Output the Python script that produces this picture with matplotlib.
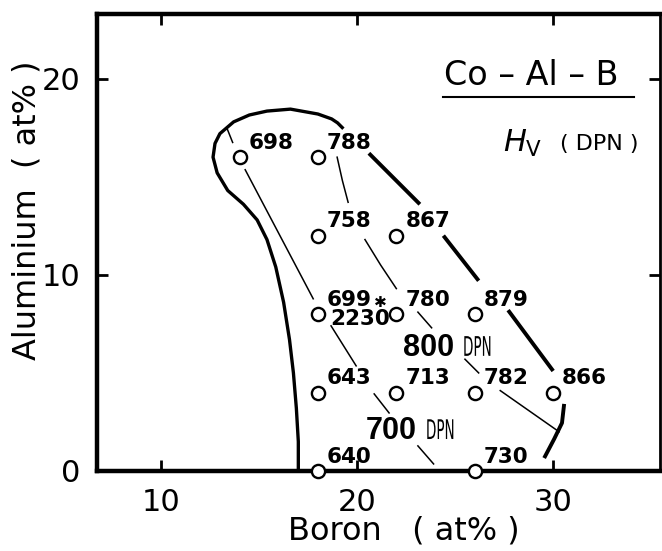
import matplotlib.pyplot as plt
from matplotlib.textpath import TextPath
from matplotlib.patches import PathPatch
from matplotlib.font_manager import FontProperties
from matplotlib.transforms import Affine2D, ScaledTranslation

# Vickers hardness (DPN) of Co-Al-B alloys, composition in at%
boron = [14, 18, 18, 22, 18, 22, 26, 18, 22, 26, 30, 18, 26]
aluminium = [16, 16, 12, 12, 8, 8, 8, 4, 4, 4, 4, 0, 0]
hardness = [698, 788, 758, 867, 699, 780, 879, 643, 713, 782, 866, 640, 730]
# second phase measured in the 18B-8Al alloy
hard_phase = 2230

# single-phase region boundary (left / top part)
bound_b = [17.0, 17.0, 16.9, 16.75, 16.55, 16.25, 15.85, 15.4, 14.9, 14.2, 13.4,
           12.86, 12.65, 12.75, 13.0, 13.7, 14.5, 15.4, 16.6, 18.0, 18.7, 19.0, 19.3]
bound_al = [0.0, 1.5, 3.2, 5.0, 6.7, 8.6, 10.4, 11.8, 12.8, 13.6, 14.3,
            15.2, 16.0, 16.7, 17.2, 17.8, 18.15, 18.35, 18.45, 18.2, 17.95, 17.75, 17.45]
# boundary (right part), broken by the labels
edge_segments = [
    ([20.6, 23.2], [16.2, 13.6]),
    ([24.4, 26.2], [12.0, 9.7]),
    ([27.7, 30.0], [8.2, 5.1]),
    ([30.56, 30.45, 30.05, 29.54], [3.42, 2.45, 1.63, 0.66]),
]
# iso-hardness lines
iso700 = [
    ([14.29, 17.76], [15.36, 8.78]),
    ([18.67, 19.95], [7.4, 5.36]),
    ([20.87, 21.63], [3.93, 2.96]),
    ([23.1, 23.9], [1.28, 0.36]),
]
iso800 = [
    ([18.98, 19.25, 19.54], [16.0, 14.8, 13.7]),
    ([20.4, 21.2, 22.0], [11.8, 10.5, 9.3]),
    ([23.1, 23.8], [8.1, 7.3]),
    ([25.5, 26.2], [5.7, 5.0]),
    ([27.3, 30.3], [4.1, 2.0]),
]

fig = plt.figure(figsize=(6.62, 5.51), dpi=100)
ax = fig.add_axes([0.1465, 0.1452, 0.8505, 0.8294])

ax.plot(bound_b, bound_al, color='black', lw=2.4, solid_capstyle='butt')
ax.plot([13.35, 13.65], [17.5, 16.75], color='black', lw=1.1)
for xs, ys in edge_segments:
    ax.plot(xs, ys, color='black', lw=2.8, solid_capstyle='butt')
for xs, ys in iso700 + iso800:
    ax.plot(xs, ys, color='black', lw=1.1)

ax.plot(boron, aluminium, 'o', ms=9.5, mew=1.7, mec='black', mfc='white',
        clip_on=False, zorder=5)

for b, al, hv in zip(boron, aluminium, hardness):
    ax.annotate(str(hv), (b, al), xytext=(6.5, 6), textcoords='offset points',
                fontsize=15.5, fontweight='bold', ha='left', va='baseline')
ax.annotate(str(hard_phase), (boron[4], aluminium[4]), xytext=(9, 3.5),
            textcoords='offset points', fontsize=15.5, fontweight='bold',
            ha='left', va='top')
ax.annotate('\u2731', (boron[4], aluminium[4]), xytext=(45, 8.5),
            textcoords='offset points', fontsize=11, ha='center', va='center')


def narrow_text(x, y, s, size, squeeze=0.5):
    # horizontally condensed text drawn as a path
    tp = TextPath((0, 0), s, size=size, prop=FontProperties(family='DejaVu Sans'))
    tr = Affine2D().scale(squeeze * fig.dpi / 72, fig.dpi / 72) + ScaledTranslation(x, y, ax.transData)
    ax.add_artist(PathPatch(tp, transform=tr, fc='black', ec='none', clip_on=False))


# contour labels
for val, x, y in [(700, 20.46, 1.63), (800, 22.35, 5.87)]:
    ax.text(x, y, str(val), fontsize=22, fontweight='bold', family='Liberation Sans',
            ha='left', va='baseline')
    narrow_text(x + 3.05, y, 'DPN', 19.5)

# system name and quantity
ax.text(0.616, 0.845, 'Co \u2013 Al \u2013 B', transform=ax.transAxes, fontsize=24,
        ha='left', va='baseline')
ax.plot([0.614, 0.954], [0.818, 0.818], transform=ax.transAxes, color='black', lw=1.5,
        clip_on=False)
ax.text(0.721, 0.698, r'$H_{\mathrm{V}}$', transform=ax.transAxes, fontsize=22,
        ha='left', va='baseline')
ax.text(0.822, 0.702, '( DPN )', transform=ax.transAxes, fontsize=16,
        ha='left', va='baseline')

ax.set_xlim(6.73, 35.45)
ax.set_ylim(0, 23.3)
ax.set_xticks([10, 20, 30])
ax.set_yticks([0, 10, 20])
ax.tick_params(direction='in', length=8, width=2, top=True, right=True,
               labelsize=22, pad=12)
for side in ['left', 'bottom', 'top']:
    ax.spines[side].set_linewidth(3.2)
ax.spines['right'].set_linewidth(2)

ax.set_xlabel('Boron   ( at% )', fontsize=23, va='baseline')
ax.xaxis.set_label_coords(0.545, -0.15)
ax.set_ylabel('Aluminium  ( at% )', fontsize=23, va='baseline', rotation_mode='anchor')
ax.yaxis.set_label_coords(-0.11, 0.571)

fig.savefig('out.png', dpi=100)
